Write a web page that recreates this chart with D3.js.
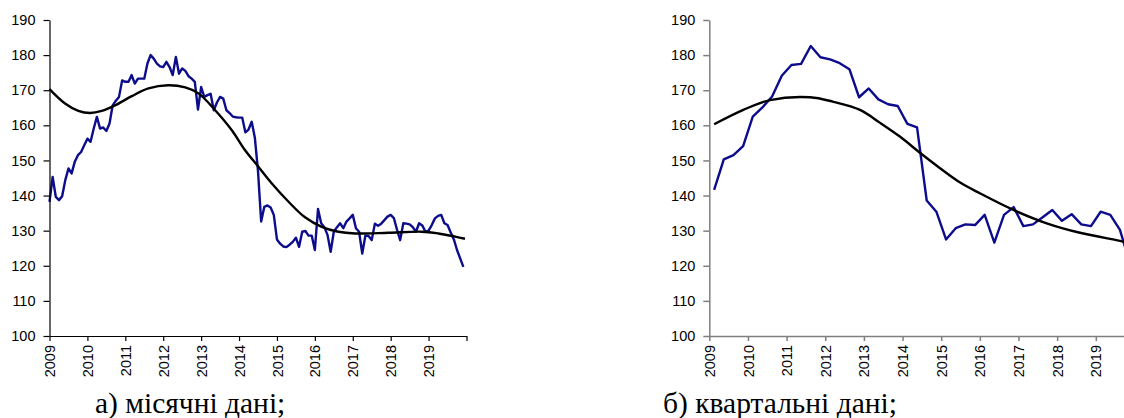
<!DOCTYPE html>
<html>
<head>
<meta charset="utf-8">
<script src="https://cdn.jsdelivr.net/npm/d3@7"></script>
<style>
  body { margin: 0; background: #fff; }
  svg { display: block; }
</style>
</head>
<body>
<div id="chart"></div>
<script>
// year ticks (same on both panels)
const yearTicks = [2009, 2010, 2011, 2012, 2013, 2014, 2015, 2016, 2017, 2018, 2019, 2020];
const yTicks = [100, 110, 120, 130, 140, 150, 160, 170, 180, 190];

// а) monthly index, Jan 2009 .. Dec 2019
const monthlyValues = [
  138.2, 145.3, 139.6, 138.7, 139.8, 144.4, 147.7, 146.3, 149.6, 151.5, 152.4, 154.3,
  156.2, 155.3, 159.1, 162.4, 159.1, 159.4, 158.4, 160.5, 165.7, 167.0, 168.1, 172.8,
  172.4, 172.4, 174.3, 171.9, 173.3, 173.3, 173.3, 177.6, 180.0, 179.0, 177.6, 176.8,
  176.6, 178.1, 176.6, 174.3, 179.5, 174.7, 176.2, 175.5, 174.0, 173.3, 172.4, 164.5,
  170.9, 168.1, 168.6, 169.0, 164.3, 166.5, 168.1, 167.6, 164.3, 163.5, 162.5, 162.3,
  162.2, 162.2, 158.0, 158.8, 161.0, 156.5, 147.0, 132.6, 136.8, 137.2, 136.6, 134.5,
  127.5, 126.3, 125.5, 125.3, 126.0, 126.8, 128.0, 125.4, 129.7, 129.9, 128.6, 128.6,
  124.5, 136.2, 132.1, 131.0, 128.8, 124.0, 129.7, 131.0, 132.1, 130.7, 132.6, 133.5,
  134.5, 130.7, 129.7, 123.5, 128.6, 128.5, 127.3, 132.0, 131.4, 132.0, 133.0, 134.0,
  134.5, 133.6, 130.3, 127.3, 132.1, 132.0, 131.8, 131.0, 129.7, 132.1, 131.5, 129.7,
  130.0, 131.6, 133.5, 134.2, 134.5, 132.1, 131.6, 129.5, 127.5, 124.5, 122.1, 119.7
];

// а) trend line (year, value)
const monthlyTrendYears = [2009.0, 2009.41, 2009.76, 2010.07, 2010.38, 2010.73, 2011.17, 2011.61, 2012.13,
  2012.58, 2012.93, 2013.37, 2013.81, 2014.16, 2014.51, 2014.86, 2015.30, 2015.74, 2016.18, 2016.62,
  2017.06, 2017.94, 2018.82, 2019.26, 2019.70, 2019.96];
const monthlyTrendValues = [170.3, 166.2, 164.1, 163.5, 164.1, 165.7, 168.3, 170.5, 171.4,
  170.8, 169.1, 164.3, 158.6, 152.9, 148.2, 143.5, 138.3, 133.8, 131.1, 129.7,
  129.2, 129.4, 129.7, 129.2, 128.3, 127.7];

// б) quarterly index, Q1 2009 .. Q4 2019
const quarterlyValues = [
  141.6, 150.3, 151.5, 154.1, 162.5, 165.1, 168.2, 174.1, 177.2, 177.5, 182.6,
  179.4, 178.8, 177.7, 176.0, 168.0, 170.5, 167.4, 166.0, 165.5, 160.4, 159.4,
  138.6, 135.4, 127.5, 130.7, 131.8, 131.6, 134.5, 126.6, 134.5, 136.7, 131.3,
  131.8, 133.8, 135.9, 132.8, 134.7, 131.8, 131.3, 135.4, 134.5, 130.2, 121.0
];

const quarterlyTrendYears = [2009.125, 2009.88, 2010.57, 2011.61, 2012.21, 2012.90, 2013.42, 2013.93,
  2014.45, 2014.97, 2015.49, 2016.01, 2016.87, 2017.73, 2018.59, 2019.71, 2019.875];
const quarterlyTrendValues = [160.3, 164.4, 167.2, 168.0, 166.7, 164.4, 160.7, 156.8,
  152.2, 147.8, 143.7, 140.6, 135.9, 132.1, 129.4, 126.9, 126.4];

const captions = ["а) місячні дані;", "б) квартальні дані;"];

const W = 1124, H = 418;
const svg = d3.select("#chart").append("svg")
    .attr("width", W)
    .attr("height", H);

const y = d3.scaleLinear().domain([100, 190]).range([336, 20]);

function drawPanel(opts) {
  const x = d3.scaleLinear().domain([2009, 2020]).range([opts.x0, opts.x1]);
  const g = svg.append("g");

  // trend (black) and index (navy)
  const trendLine = d3.line()
      .x((d, i) => x(opts.trendYears[i]))
      .y(d => y(d))
      .curve(d3.curveCatmullRom);
  const seriesLine = d3.line()
      .x((d, i) => x(opts.seriesYear(i)))
      .y(d => y(d));

  g.append("path")
      .datum(opts.series)
      .attr("d", seriesLine)
      .style("fill", "none")
      .style("stroke", "#0c0c8c")
      .style("stroke-width", 2.4)
      .style("stroke-linejoin", "round");

  g.append("path")
      .datum(opts.trendValues)
      .attr("d", trendLine)
      .style("fill", "none")
      .style("stroke", "#000")
      .style("stroke-width", 2.4);

  // axes
  const yAxis = g.append("g")
      .attr("transform", `translate(${opts.x0},0)`)
      .call(d3.axisLeft(y).tickValues(yTicks).tickSize(6).tickPadding(8).tickSizeOuter(0));

  const xAxis = g.append("g")
      .attr("transform", `translate(0,336)`)
      .call(d3.axisBottom(x).tickValues(yearTicks).tickSize(5).tickSizeOuter(0)
        .tickFormat(d => d === 2020 ? "" : d));

  xAxis.selectAll("text")
      .attr("transform", "rotate(-90)")
      .attr("x", -9)
      .attr("y", 0)
      .attr("dy", "0.35em")
      .style("text-anchor", "end");

  [yAxis, xAxis].forEach(a => {
    a.select(".domain").style("stroke", opts.axisColor).style("stroke-width", opts.axisWidth);
    a.selectAll(".tick line").style("stroke", opts.axisColor).style("stroke-width", opts.axisWidth);
    a.selectAll("text")
        .style("font-family", "'Liberation Sans', Arial, sans-serif")
        .style("font-size", "14.5px")
        .style("fill", "#000");
  });

  svg.append("text")
      .attr("x", opts.captionX)
      .attr("y", 413)
      .style("font-family", "'Liberation Serif', 'Times New Roman', serif")
      .style("font-size", "29.5px")
      .style("fill", "#000")
      .text(opts.caption);
}

drawPanel({
  x0: 49.5, x1: 466.5,
  series: monthlyValues,
  seriesYear: i => 2009 + i / 12,
  trendYears: monthlyTrendYears,
  trendValues: monthlyTrendValues,
  axisColor: "#000", axisWidth: 1.2,
  caption: captions[0], captionX: 95
});

drawPanel({
  x0: 709.3, x1: 709.3 + 11 * 38.65,
  series: quarterlyValues,
  seriesYear: i => 2009 + (i + 0.5) / 4,
  trendYears: quarterlyTrendYears,
  trendValues: quarterlyTrendValues,
  axisColor: "#7f7f7f", axisWidth: 1.5,
  caption: captions[1], captionX: 663
});
</script>
</body>
</html>
